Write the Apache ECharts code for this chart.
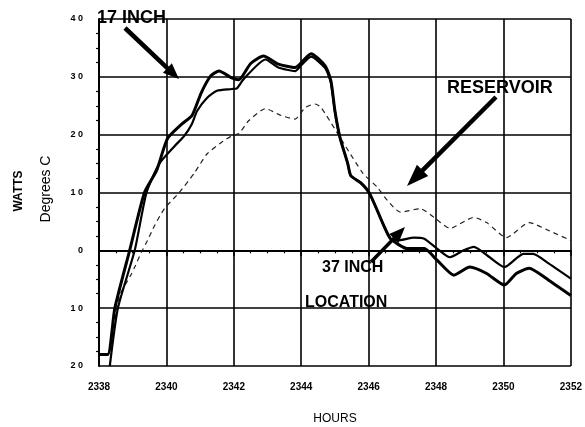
<!DOCTYPE html>
<html><head><meta charset="utf-8">
<script src="https://cdn.jsdelivr.net/npm/echarts@6/dist/echarts.min.js"></script>
<style>html,body{margin:0;padding:0;background:#fff}#c{width:585px;height:427px}</style>
</head><body><div id="c"></div>
<script>
// 17 INCH (heavy solid)
const hoursA = [2338.0,2338.26,2338.47,2338.91,2339.35,2339.71,2340.03,2340.47,2340.76,2341.03,2341.32,2341.56,2341.94,2342.15,2342.5,2342.88,2343.32,2343.82,2344.29,2344.71,2344.88,2345.0,2345.15,2345.38,2345.47,2345.76,2346.03,2346.47,2346.65,2347.15,2347.65,2348.03,2348.53,2349.0,2349.5,2350.03,2350.38,2350.76,2351.35,2352.0];
const wattsA = [-18,-18,-10,0,10,13.8,19.3,21.9,23.3,27.2,30.2,31,29.8,29.5,32.3,33.6,32.2,31.6,34,31.9,29.3,24.1,19.5,15,12.9,11.7,9.8,4,2,0.3,0.3,-1.7,-4.3,-2.9,-4,-6,-4,-3.1,-5.2,-7.8];
// 37 INCH (solid)
const hoursB = [2338.32,2338.56,2339.06,2339.41,2339.79,2340.24,2340.53,2340.76,2340.91,2341.21,2341.5,2341.94,2342.09,2342.29,2342.94,2343.32,2343.82,2344.0,2344.29,2344.71,2344.88,2345.0,2345.15,2345.38,2345.47,2345.76,2346.03,2346.47,2346.65,2346.85,2347.35,2347.65,2348.03,2348.41,2348.82,2349.12,2349.59,2350.03,2350.59,2350.88,2351.35,2352.0];
const wattsB = [-20,-10,0,10,15,18,19.8,21.9,24.1,26.4,27.6,27.9,28,29.6,33,31.6,31,32,33.5,31.5,29,24,19.5,15,12.9,11.7,9.8,4,2,1.7,2.2,2,0.3,-1.2,0,0.6,-1.2,-2.9,-0.6,-0.6,-2.3,-4.9];
// RESERVOIR (dashed)
const hoursC = [2338.4,2338.6,2338.97,2339.06,2339.26,2339.44,2339.65,2339.94,2340.38,2340.82,2341.21,2341.62,2341.94,2342.15,2342.44,2342.94,2343.41,2343.82,2344.12,2344.41,2344.59,2345.82,2346.26,2346.56,2346.94,2347.53,2347.94,2348.41,2349.12,2349.5,2350.09,2350.76,2351.35,2352.0];
const wattsC = [-15,-8,-4,-2.9,-0.3,1.7,4.3,7.2,10,13.3,16.7,18.6,19.8,20.2,22.4,24.5,23.3,22.7,24.7,25.3,24.7,13.4,10.9,8.6,6.6,7.2,5.7,3.8,5.7,4.8,2.2,4.8,3.4,1.7];
const xTicks = [2338,2340,2342,2344,2346,2348,2350,2352];
const yTicks = [-20,-10,0,10,20,30,40];

const zip = (a,b) => a.map((h,i)=>[h,b[i]]);
const FONT = '"Liberation Sans", Arial, sans-serif';

function arrow(x1,y1,x2,y2,w,L,H){
  const dx=x2-x1, dy=y2-y1, len=Math.hypot(dx,dy);
  const ux=dx/len, uy=dy/len, px=-uy, py=ux;
  const bx=x2-ux*L, by=y2-uy*L;
  return {type:'polygon', shape:{points:[
    [x1+px*w/2,y1+py*w/2],[bx+px*w/2,by+py*w/2],[bx+px*H/2,by+py*H/2],[x2,y2],
    [bx-px*H/2,by-py*H/2],[bx-px*w/2,by-py*w/2],[x1-px*w/2,y1-py*w/2]]},
    style:{fill:'#000'}, z:20};
}

const chart = echarts.init(document.getElementById('c'), null, {renderer:'canvas'});
chart.setOption({
  animation:false,
  backgroundColor:'#fff',
  grid:{left:99,right:10,top:19,bottom:61},
  xAxis:{type:'value',min:2338,max:2352,interval:2,
    axisLine:{lineStyle:{color:'#000',width:2}},
    axisTick:{show:true,length:6,lineStyle:{color:'#000',width:1.5}},
    minorTick:{show:true,splitNumber:4,length:3,lineStyle:{color:'#000',width:1.2}},
    splitLine:{show:true,lineStyle:{color:'#000',width:1.6}},
    axisLabel:{margin:16,color:'#000',fontFamily:FONT,fontWeight:'bold',fontSize:10,
      formatter:v=>xTicks.includes(v)?String(v):''}
  },
  yAxis:{type:'value',min:-20,max:40,interval:10,
    axisLine:{show:true,lineStyle:{color:'#000',width:2}},
    axisTick:{show:false},
    minorTick:{show:true,splitNumber:4,length:3,lineStyle:{color:'#000',width:1.2}},
    splitLine:{show:true,lineStyle:{color:'#000',width:1.6}},
    axisLabel:{margin:16,color:'#000',fontFamily:FONT,fontWeight:'bold',fontSize:9,
      formatter:v=>yTicks.includes(v)?String(Math.abs(v)).split('').join(' '):''}
  },
  series:[
    {type:'line',data:zip(hoursC,wattsC),showSymbol:false,smooth:0.2,
      lineStyle:{color:'#222',width:1.2,type:[5,4]},z:3},
    {type:'line',data:zip(hoursB,wattsB),showSymbol:false,smooth:0.2,
      lineStyle:{color:'#000',width:2.2},z:4},
    {type:'line',data:zip(hoursA,wattsA),showSymbol:false,smooth:0.2,
      lineStyle:{color:'#000',width:3},z:5}
  ],
  graphic:[
    {type:'text',left:97,top:9,style:{text:'17 INCH',font:'bold 18px '+FONT,fill:'#000'},z:20},
    arrow(125,28,179,79,4.5,16,13),
    {type:'text',left:447,top:79,style:{text:'RESERVOIR',font:'bold 18px '+FONT,fill:'#000'},z:20},
    arrow(496,97,407,186,4.5,22,16),
    {type:'text',left:322,top:260,style:{text:'37 INCH',font:'bold 16px '+FONT,fill:'#000'},z:20},
    {type:'text',left:305,top:295,style:{text:'LOCATION',font:'bold 16px '+FONT,fill:'#000'},z:20},
    arrow(371,262,405,227,3.5,16,13),
    {type:'text',x:19,y:191,rotation:Math.PI/2,
      style:{text:'WATTS',font:'bold 12px '+FONT,fill:'#000',align:'center',verticalAlign:'middle'},z:20},
    {type:'text',x:46,y:189,rotation:Math.PI/2,
      style:{text:'Degrees C',font:'14px '+FONT,fill:'#000',align:'center',verticalAlign:'middle'},z:20},
    {type:'text',x:335,y:419,style:{text:'HOURS',font:'12px '+FONT,fill:'#000',align:'center',verticalAlign:'middle'},z:20}
  ]
});
</script></body></html>
